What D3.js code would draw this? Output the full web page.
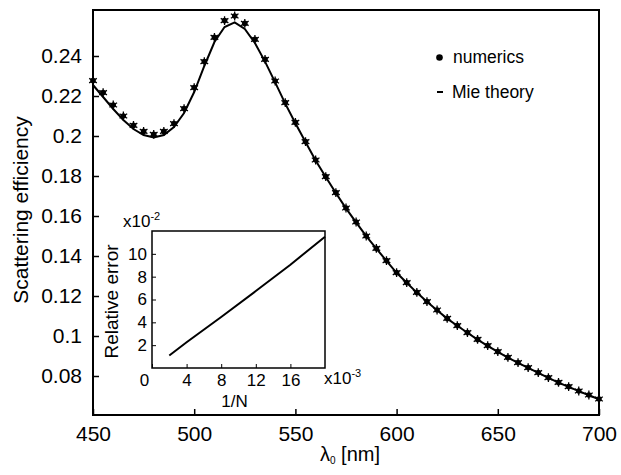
<!DOCTYPE html>
<html lang="en">
<head>
<meta charset="utf-8">
<title>Scattering efficiency</title>
<script src="https://cdnjs.cloudflare.com/ajax/libs/d3/7.8.5/d3.min.js"></script>
<style>
  body { margin: 0; background: #fff; }
  text { font-family: "Liberation Sans", Arial, Helvetica, sans-serif; fill: #000; }
</style>
</head>
<body>
<div id="chart"></div>
<script>
// wavelength samples [nm]
var wavelength = [450, 455, 460, 465, 470, 475, 480, 485, 490, 495,
                  500, 505, 510, 515, 520, 525, 530, 535, 540, 545,
                  550, 555, 560, 565, 570, 575, 580, 585, 590, 595,
                  600, 605, 610, 615, 620, 625, 630, 635, 640, 645,
                  650, 655, 660, 665, 670, 675, 680, 685, 690, 695, 700];

var numerics = [0.2277, 0.2217, 0.2155, 0.2100, 0.2053, 0.2023, 0.2008, 0.2023, 0.2062, 0.2137,
                0.2242, 0.2372, 0.2493, 0.2577, 0.2600, 0.2563, 0.2483, 0.2383, 0.2275, 0.2167,
                0.2068, 0.1972, 0.1880, 0.1797, 0.1717, 0.1640, 0.1570, 0.1500, 0.1438, 0.1377,
                0.1317, 0.1267, 0.1218, 0.1172, 0.1130, 0.1088, 0.1052, 0.1017, 0.0983, 0.0952,
                0.0922, 0.0893, 0.0867, 0.0842, 0.0817, 0.0792, 0.0768, 0.0747, 0.0725, 0.0705, 0.0685];

var mie = [0.2255, 0.2195, 0.2135, 0.2080, 0.2035, 0.2005, 0.1993, 0.2005, 0.2045, 0.2115,
           0.2220, 0.2350, 0.2470, 0.2545, 0.2568, 0.2535, 0.2465, 0.2372, 0.2268, 0.2162,
           0.2064, 0.1970, 0.1878, 0.1795, 0.1715, 0.1638, 0.1568, 0.1499, 0.1437, 0.1376,
           0.1316, 0.1266, 0.1217, 0.1171, 0.1129, 0.1087, 0.1051, 0.1016, 0.0982, 0.0951,
           0.0921, 0.0892, 0.0866, 0.0841, 0.0816, 0.0791, 0.0767, 0.0746, 0.0724, 0.0704, 0.0684];

var xTicks = [450, 500, 550, 600, 650, 700];
var yTicks = [0.08, 0.1, 0.12, 0.14, 0.16, 0.18, 0.2, 0.22, 0.24];

// inset: relative error vs 1/N (x1e-3, x1e-2)
var invN = [2, 4, 8, 12, 16, 20];
var relErr = [1.1, 2.25, 4.47, 6.74, 9.05, 11.5];
var insetXTicks = [0, 4, 8, 12, 16];
var insetYTicks = [2, 4, 6, 8, 10];

var W = 621, H = 475;
var box = { left: 93, top: 10, right: 599, bottom: 415 };
var ibox = { left: 152, top: 231, right: 325, bottom: 368 };

var svg = d3.select("#chart").append("svg")
    .attr("width", W)
    .attr("height", H);

var x = d3.scaleLinear().domain([450, 700]).range([box.left, box.right]);
var y = d3.scaleLinear().domain([0.0605, 0.263]).range([box.bottom, box.top]);

var pts = wavelength.map(function (w, i) { return { w: w, n: numerics[i], m: mie[i] }; });

// axes with inward ticks
var gx = svg.append("g")
    .attr("transform", "translate(0," + box.bottom + ")")
    .call(d3.axisBottom(x).tickValues(xTicks).tickSize(-6).tickPadding(11).tickFormat(d3.format("d")));
var gy = svg.append("g")
    .attr("transform", "translate(" + box.left + ",0)")
    .call(d3.axisLeft(y).tickValues(yTicks).tickSize(-6).tickPadding(11).tickFormat(d3.format(".2~f")));
[gx, gy].forEach(function (g) {
  g.select(".domain").remove();
  g.selectAll("line").attr("stroke", "#000").attr("stroke-width", 1.5);
  g.selectAll("text").style("font-size", "21px").attr("font-family", null);
});

// Mie theory curve
var valueline = d3.line()
    .x(function (d) { return x(d.w); })
    .y(function (d) { return y(d.m); });

svg.append("path")
    .datum(pts)
    .attr("d", valueline)
    .attr("fill", "none")
    .attr("stroke", "#000")
    .attr("stroke-width", 2);

// numerics markers
var star = d3.symbol().type(d3.symbolAsterisk).size(55);
var mk = svg.selectAll(".dot")
    .data(pts)
    .enter().append("g")
    .attr("class", "dot")
    .attr("transform", function (d) { return "translate(" + x(d.w) + "," + y(d.n) + ")"; });
mk.append("circle").attr("r", 2.8).attr("fill", "#000");
mk.append("path").attr("d", star).attr("fill", "none").attr("stroke", "#000").attr("stroke-width", 1.3);

// frame
svg.append("rect")
    .attr("x", box.left).attr("y", box.top)
    .attr("width", box.right - box.left).attr("height", box.bottom - box.top)
    .attr("fill", "none").attr("stroke", "#000").attr("stroke-width", 2);

svg.append("text")
    .attr("transform", "translate(28,210) rotate(-90)")
    .attr("text-anchor", "middle")
    .style("font-size", "21px")
    .text("Scattering efficiency");

var xl = svg.append("text")
    .attr("x", 350).attr("y", 461)
    .attr("text-anchor", "middle")
    .style("font-size", "20px");
xl.append("tspan").text("\u03bb");
xl.append("tspan").attr("dy", 3).style("font-size", "10px").text("0");
xl.append("tspan").attr("dy", -3).text(" [nm]");

// legend
svg.append("circle").attr("cx", 439.5).attr("cy", 57.5).attr("r", 3.3).attr("fill", "#000");
svg.append("text").attr("x", 453).attr("y", 63).style("font-size", "17.5px").text("numerics");
svg.append("line").attr("x1", 437).attr("x2", 443).attr("y1", 92).attr("y2", 92)
    .attr("stroke", "#000").attr("stroke-width", 2);
svg.append("text").attr("x", 452).attr("y", 98).style("font-size", "17.5px").text("Mie theory");

// inset
var ix = d3.scaleLinear().domain([0, 20]).range([ibox.left, ibox.right]);
var iy = d3.scaleLinear().domain([0, 12]).range([ibox.bottom, ibox.top]);

svg.append("rect")
    .attr("x", ibox.left).attr("y", ibox.top)
    .attr("width", ibox.right - ibox.left).attr("height", ibox.bottom - ibox.top)
    .attr("fill", "#fff");

var igx = svg.append("g")
    .attr("transform", "translate(0," + ibox.bottom + ")")
    .call(d3.axisBottom(ix).tickValues(insetXTicks).tickSize(-4).tickPadding(6).tickFormat(d3.format("d")));
var igy = svg.append("g")
    .attr("transform", "translate(" + ibox.left + ",0)")
    .call(d3.axisLeft(iy).tickValues(insetYTicks).tickSize(-4).tickPadding(5).tickFormat(d3.format("d")));
[igx, igy].forEach(function (g) {
  g.select(".domain").remove();
  g.selectAll("line").attr("stroke", "#000").attr("stroke-width", 1);
  g.selectAll("text").style("font-size", "17px").attr("font-family", null);
});
igx.selectAll(".tick").filter(function (d) { return d === 0; }).select("text").attr("dx", -8);

svg.append("path")
    .datum(invN.map(function (v, i) { return [v, relErr[i]]; }))
    .attr("d", d3.line().x(function (d) { return ix(d[0]); }).y(function (d) { return iy(d[1]); }))
    .attr("fill", "none")
    .attr("stroke", "#000")
    .attr("stroke-width", 2);

svg.append("rect")
    .attr("x", ibox.left).attr("y", ibox.top)
    .attr("width", ibox.right - ibox.left).attr("height", ibox.bottom - ibox.top)
    .attr("fill", "none").attr("stroke", "#000").attr("stroke-width", 1.5);

svg.append("text")
    .attr("transform", "translate(118," + ((ibox.top + ibox.bottom) / 2 + 2) + ") rotate(-90)")
    .attr("text-anchor", "middle")
    .style("font-size", "19px")
    .text("Relative error");

svg.append("text")
    .attr("x", (ibox.left + ibox.right) / 2 - 4).attr("y", 407)
    .attr("text-anchor", "middle")
    .style("font-size", "17px")
    .text("1/N");

var e2 = svg.append("text").attr("x", 123).attr("y", 227).style("font-size", "17px");
e2.append("tspan").text("x10");
e2.append("tspan").attr("dy", -7).style("font-size", "11px").text("-2");

var e3 = svg.append("text").attr("x", 324).attr("y", 384).style("font-size", "17px");
e3.append("tspan").text("x10");
e3.append("tspan").attr("dy", -7).style("font-size", "11px").text("-3");
</script>
</body>
</html>
